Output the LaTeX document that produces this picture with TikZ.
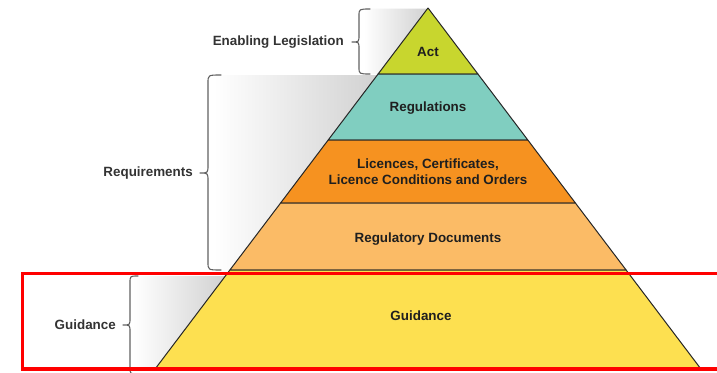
\documentclass[tikz,border=0pt]{standalone}
\usepackage{fontspec}
\setmainfont{Liberation Sans}
\begin{document}
\begin{tikzpicture}[x=1pt,y=-1pt,
  layer/.style={draw=black!85, line width=1pt, line join=round},
  lbl/.style={font=\fontsize{13.4}{16}\selectfont\bfseries, text=black!88, align=center, inner sep=0pt},
  sidelbl/.style={font=\fontsize{13.4}{16}\selectfont\bfseries, text=black!80, anchor=east, inner sep=0pt},
  bracestyle/.style={draw=black!62, line width=1.1pt, line cap=round, line join=round},
  shade/.style={shading=axis, left color=white, right color=black!18, draw=none},
  redbox/.style={draw=red, line width=3.6pt}
]
\useasboundingbox (0,0) rectangle (717,372);
\clip (0,0) rectangle (717,372);
\fill[white] (0,0) rectangle (717,372);

% pyramid corner coordinates
\coordinate (apex) at (428,8);
\coordinate (l1) at (378.1,74);  \coordinate (r1) at (477.9,74);
\coordinate (l2) at (328.2,140); \coordinate (r2) at (527.8,140);
\coordinate (l3) at (280.6,203); \coordinate (r3) at (575.4,203);
\coordinate (l4) at (229.9,270); \coordinate (r4) at (626.1,270);
\coordinate (l5) at (154.7,369.5); \coordinate (r5) at (701.3,369.5);

% grey shadows between braces and pyramid
\path[shade] (364,8.5) -- (427,8.5) -- (l1) -- (364,74) -- cycle;
\path[shade] (214,75) -- (377.3,75) -- (l4) -- (214,270) -- cycle;
\path[shade] (133,276) -- (225.4,276) -- (l5) -- (133,372) -- cycle;

% pyramid layers
\path[layer, fill={rgb,255:red,200;green,214;blue,46}] (apex) -- (r1) -- (l1) -- cycle;
\path[layer, fill={rgb,255:red,128;green,206;blue,192}] (l1) -- (r1) -- (r2) -- (l2) -- cycle;
\path[layer, fill={rgb,255:red,246;green,146;blue,32}] (l2) -- (r2) -- (r3) -- (l3) -- cycle;
\path[layer, fill={rgb,255:red,251;green,187;blue,102}] (l3) -- (r3) -- (r4) -- (l4) -- cycle;
\path[layer, fill={rgb,255:red,253;green,224;blue,80}] (l4) -- (r4) -- (r5) -- (l5) -- cycle;

% layer labels
\node[lbl] (act) at (428,52) {Act};
\node[lbl] (regs) at (428,108) {Regulations};
\node[lbl] (lic) at (428,172) {Licences, Certificates,\\Licence Conditions and Orders};
\node[lbl] (rdocs) at (428,239) {Regulatory Documents};
\node[lbl] (guid) at (421,316) {Guidance};

% braces
\path[bracestyle] (370,9) .. controls (359,9) and (359,9) .. (359,16) -- (359,35)
  .. controls (359,42) and (359,42) .. (352,42) .. controls (359,42) and (359,42) .. (359,49)
  -- (359,67) .. controls (359,74) and (359,74) .. (370,74);
\path[bracestyle] (221,75) .. controls (208,75) and (208,75) .. (208,83) -- (208,165)
  .. controls (208,173) and (208,173) .. (200,173) .. controls (208,173) and (208,173) .. (208,181)
  -- (208,262) .. controls (208,270) and (208,270) .. (221,270);
\path[bracestyle] (138,276) .. controls (130,276) and (130,276) .. (130,283) -- (130,318)
  .. controls (130,325) and (130,325) .. (123,325) .. controls (130,325) and (130,325) .. (130,332)
  -- (130,367) .. controls (130,374) and (130,374) .. (138,374);

% side labels
\node[sidelbl] (enab) at (344,42) {Enabling Legislation};
\node[sidelbl] (req) at (193,173) {Requirements};
\node[sidelbl] (guidside) at (116,325) {Guidance};

% red highlight box
\path[redbox] (730,273.4) -- (22.3,273.4) -- (22.3,369) -- (730,369);
\end{tikzpicture}
\end{document}
